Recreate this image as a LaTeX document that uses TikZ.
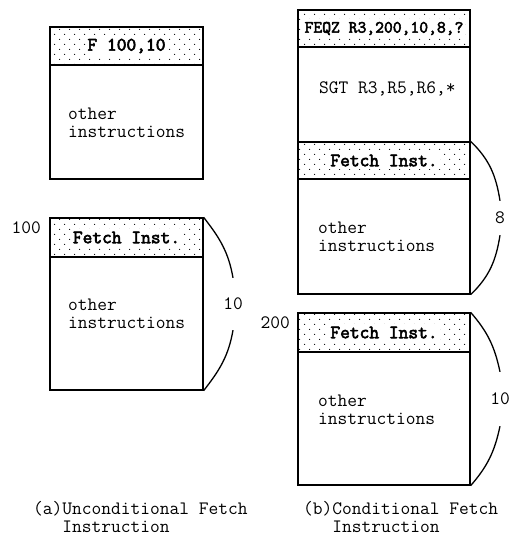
\documentclass[tikz,border=0pt]{standalone}
\usepackage{fontspec}
\newfontfamily\hdrfont[FakeBold=3]{Latin Modern Mono}
\usetikzlibrary{patterns.meta}
\begin{document}
\begin{tikzpicture}[x=1bp,y=-1bp,
  every node/.style={inner sep=0pt, font=\ttfamily\fontsize{19}{18}\selectfont},
  ln/.style={line width=1.3bp},
  hdr/.style={ln, draw, pattern={Dots[distance=10bp,radius=0.65bp]},
    postaction={pattern={Dots[distance=10bp,radius=0.65bp,xshift=5bp,yshift=5bp]}}},
  bodybox/.style={ln, draw},
  htxt/.style={fill=white, inner xsep=2bp, inner ysep=3bp, font=\hdrfont\fontsize{19}{18}\selectfont},
  btxt/.style={anchor=west, align=left},
  gap/.style={minimum width=1bp}]
\useasboundingbox (0,0) rectangle (519,539);

% ---------- (a) left column ----------
\node[hdr, minimum width=153bp, minimum height=38bp] (hA) at (126.5,46) {};
\node[htxt] (tA) at (hA) {F 100,10};
\node[bodybox, minimum width=153bp, minimum height=114bp] (bA) at (126.5,122) {};
\node[btxt] (oA) at (68,123) {other\\instructions};

\node[hdr, minimum width=153bp, minimum height=39bp] (hB) at (126.5,237.5) {};
\node[htxt] (tB) at (hB) {Fetch Inst.};
\node[bodybox, minimum width=153bp, minimum height=133bp] (bB) at (126.5,323.5) {};
\node[btxt] (oB) at (68,314) {other\\instructions};
\node[anchor=east] (n100) at (41,228) {100};
\node[gap, minimum height=52bp] (lB) at (233,304) {10};
\draw[ln] (hB.north east) to[out=-52,in=100] (lB.north);
\draw[ln] (lB.south) to[out=-100,in=52] (bB.south east);

\node[anchor=west, align=left] (capA) at (33,518) {(a)Unconditional Fetch\\\phantom{(a)}Instruction};

% ---------- (b) right column ----------
\node[hdr, minimum width=172bp, minimum height=37bp] (hC) at (384,28.5) {};
\node[htxt, font=\hdrfont\fontsize{17.2}{18}\selectfont] (tC) at (hC) {FEQZ R3,200,10,8,?};
\node[bodybox, minimum width=172bp, minimum height=95bp] (sC) at (384,94.5) {};
\node[anchor=west] (oS) at (319,89) {SGT R3,R5,R6,*};
\node[hdr, minimum width=172bp, minimum height=37bp] (fC) at (384,160.5) {};
\node[htxt] (tF) at (fC) {Fetch Inst.};
\node[bodybox, minimum width=172bp, minimum height=115bp] (bC) at (384,236.5) {};
\node[btxt] (oC) at (318,237) {other\\instructions};
\node[gap, minimum height=34bp] (lC) at (500,218) {8};
\draw[ln] (fC.north east) to[out=-44,in=99] (lC.north);
\draw[ln] (lC.south) to[out=-99,in=44] (bC.south east);

\node[hdr, minimum width=172bp, minimum height=39bp] (hD) at (384,332.5) {};
\node[htxt] (tD) at (hD) {Fetch Inst.};
\node[bodybox, minimum width=172bp, minimum height=133bp] (bD) at (384,418.5) {};
\node[btxt] (oD) at (318,410) {other\\instructions};
\node[anchor=east] (n200) at (290,323) {200};
\node[gap, minimum height=54bp] (lD) at (500,399) {10};
\draw[ln] (hD.north east) to[out=-49,in=102] (lD.north);
\draw[ln] (lD.south) to[out=-102,in=49] (bD.south east);

\node[anchor=west, align=left] (capB) at (303,518) {(b)Conditional Fetch\\\phantom{(b)}Instruction};
\end{tikzpicture}
\end{document}
